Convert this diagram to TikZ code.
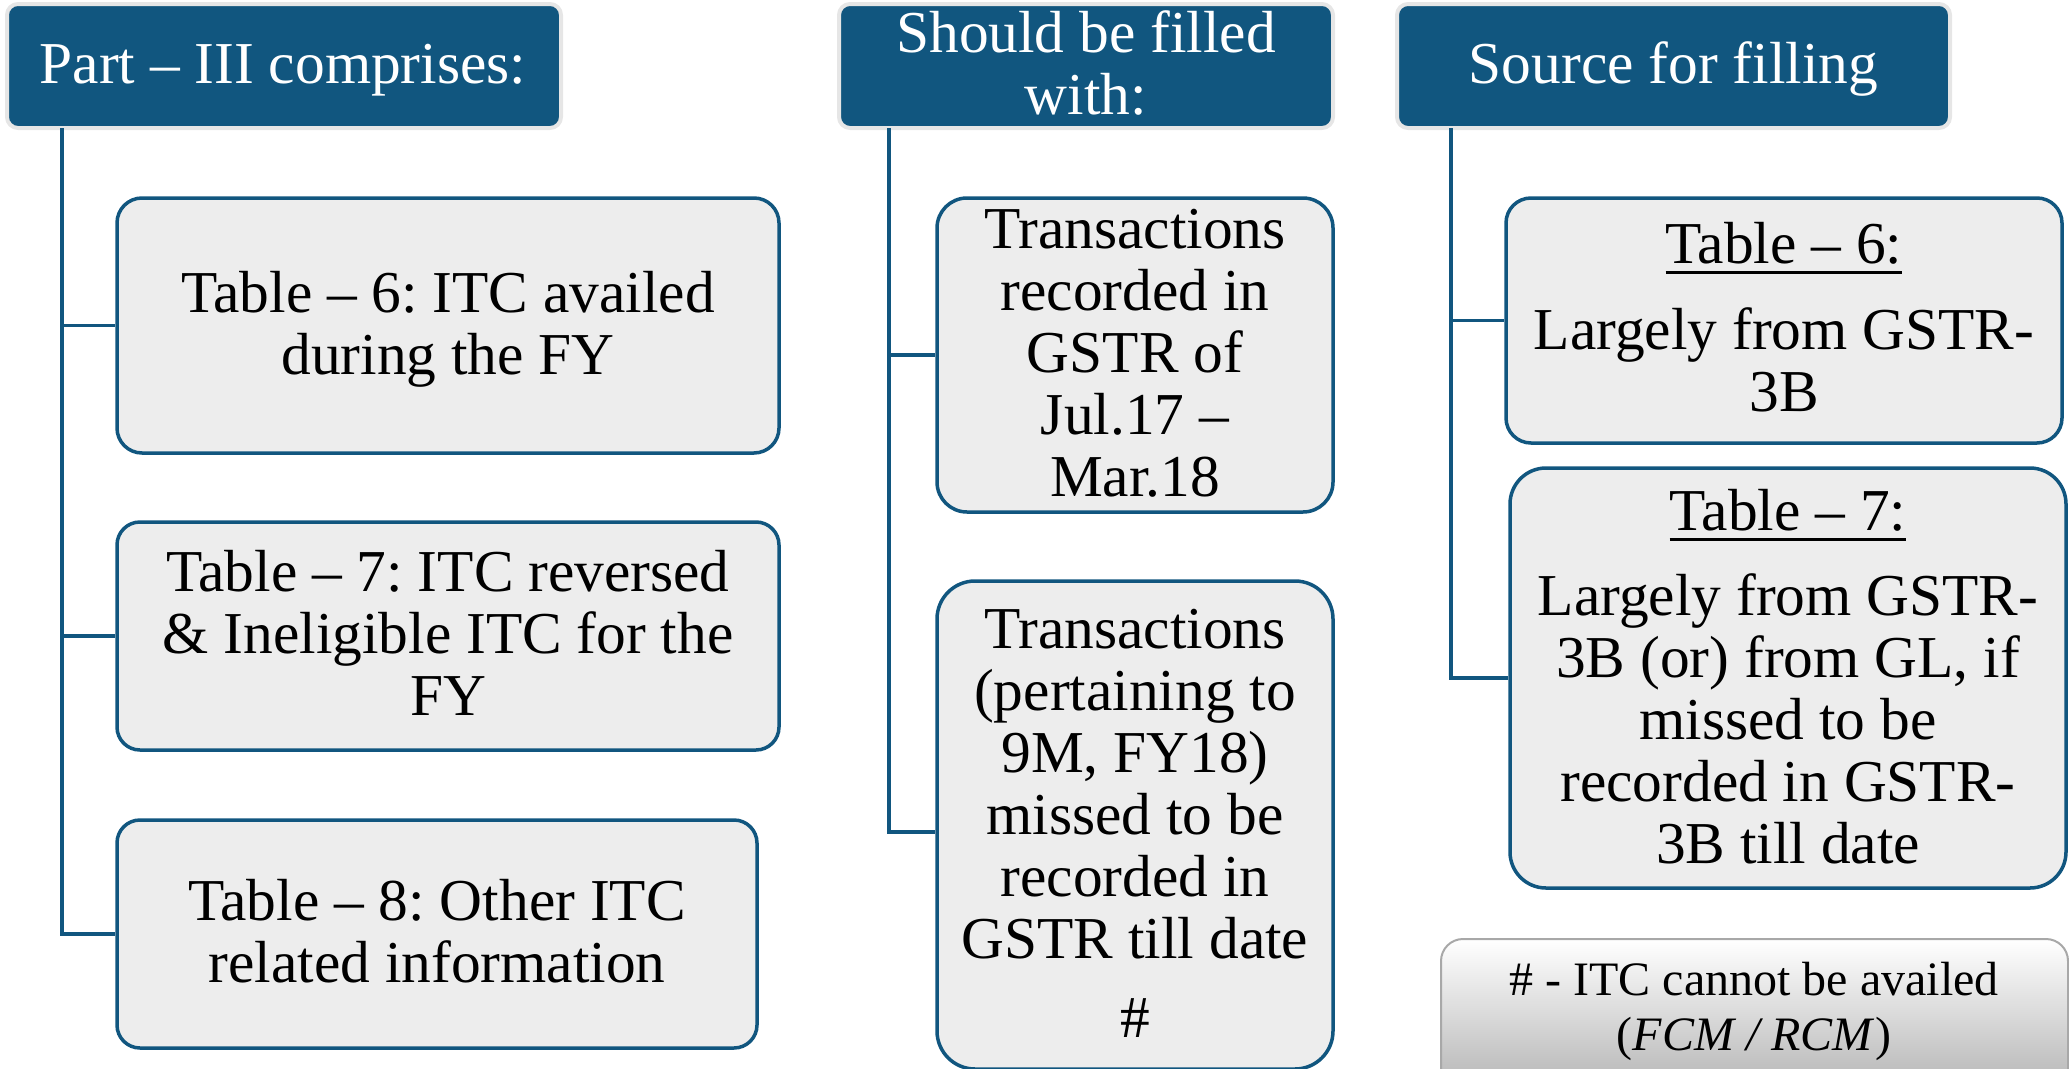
\documentclass[tikz,border=0pt]{standalone}
\usepackage{fontspec}
\setmainfont{Liberation Serif}
\usetikzlibrary{shadings}
\definecolor{hblue}{HTML}{11567F}
\definecolor{hborder}{HTML}{E6E6E6}
\definecolor{boxgray}{HTML}{EDEDED}
\definecolor{noteborder}{HTML}{A8A8A8}
\newcommand\ff{\fontsize{59.4pt}{62pt}\selectfont\frenchspacing}
\newcommand\nf{\fontsize{48pt}{55pt}\selectfont\frenchspacing}
\newcommand\myul[1]{\setbox0=\hbox{#1}\rlap{\rule[-11pt]{\wd0}{3pt}}\box0}
\tikzset{
  hdr/.style={rectangle, rounded corners=11pt, fill=hblue, draw=hborder, line width=4pt, inner sep=0pt},
  itembox/.style={rectangle, fill=boxgray, draw=hblue, line width=3.5pt, inner sep=0pt},
  conn/.style={draw=hblue, line width=3.8pt},
  txt/.style={anchor=north, align=center, inner sep=0pt, font=\ff, text=black},
  wtxt/.style={txt, text=white},
  notebox/.style={rectangle, rounded corners=22pt, top color=white, bottom color=black!33, draw=noteborder, line width=2pt, inner sep=0pt},
}
\begin{document}
\frenchspacing
\begin{tikzpicture}[x=1pt,y=-1pt]
\useasboundingbox (0,0) rectangle (2069,1068);
\clip (0,0) rectangle (2069,1068);
% headers
\node[hdr, minimum width=554pt, minimum height=124pt] (h1) at (284,66) {};
\node[hdr, minimum width=494pt, minimum height=124pt] (h2) at (1086,66) {};
\node[hdr, minimum width=553pt, minimum height=124pt] (h3) at (1673.5,66) {};
\node[wtxt] (h1t) at (283,39.6) {\strut Part – III comprises:\strut};
\node[wtxt] (h2t) at (1086,8.6) {\strut Should be filled\\ with:\strut};
\node[wtxt] (h3t) at (1673.5,39.6) {\strut Source for filling\strut};
% column 1
\node[itembox, rounded corners=25pt, minimum width=662pt, minimum height=255pt] (b1) at (448,325.5) {};
\node[itembox, rounded corners=23pt, minimum width=662pt, minimum height=228pt] (b2) at (448,636) {};
\node[itembox, rounded corners=23pt, minimum width=640pt, minimum height=228pt] (b3) at (437,934) {};
\node[txt] (b1t) at (448,268.6) {\strut Table – 6: ITC availed\\ during the FY\strut};
\node[txt] (b2t) at (448,548.3) {\strut Table – 7: ITC reversed\\ \& Ineligible ITC for the\\ FY\strut};
\node[txt] (b3t) at (437,876.6) {\strut Table – 8: Other ITC\\ related information\strut};
% column 2
\node[itembox, rounded corners=30pt, minimum width=396pt, minimum height=314pt] (c1) at (1135,355) {};
\node[itembox, rounded corners=38pt, minimum width=396pt, minimum height=488pt] (c2) at (1135,825) {};
\node[txt] (c1t) at (1135,204.6) {\strut Transactions\\ recorded in\\ GSTR of\\ Jul.17 –\\ Mar.18\strut};
\node[txt] (c2t) at (1135,604.6) {\strut Transactions\\ (pertaining to\\ 9M, FY18)\\ missed to be\\ recorded in\\ GSTR till date\\[17pt] \#\strut};
% column 3
\node[itembox, rounded corners=25pt, minimum width=556pt, minimum height=245pt] (d1) at (1784,320.5) {};
\node[itembox, rounded corners=36pt, minimum width=556pt, minimum height=420pt] (d2) at (1788,678) {};
\node[txt] (d1t) at (1784,219.6) {\strut\myul{Table – 6:}\\[24pt] Largely from GSTR-\\ 3B\strut};
\node[txt] (d2t) at (1788,486.6) {\strut\myul{Table – 7:}\\[23pt] Largely from GSTR-\\ 3B (or) from GL, if\\ missed to be\\ recorded in GSTR-\\ 3B till date\strut};
% note
\node[notebox, minimum width=627pt, minimum height=171pt] (note) at (1754.5,1024.5) {};
\node[txt, font=\nf] (notet) at (1754,956.5) {\strut \# - ITC cannot be availed\\ (\textit{FCM / RCM})\strut};
% connectors
\coordinate (v1) at (62,128);
\coordinate (v2) at (889,128);
\coordinate (v3) at (1451,128);
\draw[conn] (v1) |- (b1.west);
\draw[conn] (v1) |- (b2.west);
\draw[conn] (v1) |- (b3.west);
\draw[conn] (v2) |- (c1.west);
\draw[conn] (v2) |- ([yshift=-7pt]c2.west);
\draw[conn] (v3) |- (d1.west);
\draw[conn] (v3) |- (d2.west);
\end{tikzpicture}
\end{document}
